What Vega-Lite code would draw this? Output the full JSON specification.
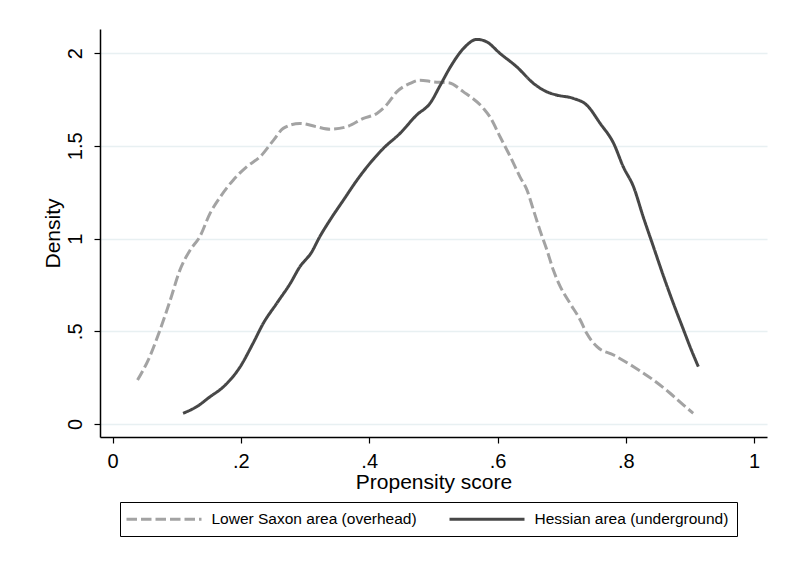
{
  "$schema": "https://vega.github.io/schema/vega-lite/v6.json",
  "width": 667,
  "height": 408,
  "autosize": {"type": "none"},
  "padding": {"left": 100, "top": 29, "right": 19, "bottom": 127},
  "background": "white",
  "config": {
    "view": {"stroke": null},
    "font": "Liberation Sans",
    "axis": {"labelFont": "Liberation Sans", "titleFont": "Liberation Sans", "labelColor": "#000000", "titleColor": "#000000", "titleFontWeight": "normal", "domainColor": "#000000", "tickColor": "#000000", "domainWidth": 1.5, "tickWidth": 1.2, "tickSize": 6},
    "legend": {
      "title": null, "orient": "none", "legendX": 20, "legendY": 473, "direction": "horizontal",
      "strokeColor": "#000000", "padding": 8, "fillColor": "white",
      "symbolType": "M-1.4,0H8.6", "symbolSize": 225, "symbolStrokeWidth": 3,
      "labelFont": "Liberation Sans", "labelFontSize": 15.5, "labelColor": "#000000", "labelOffset": 65.5, "columnPadding": 26, "labelLimit": 400
    }
  },
  "data": {
    "values": [
      {"g": "Lower Saxon area (overhead)", "x": 0.039, "y": 0.237},
      {"g": "Lower Saxon area (overhead)", "x": 0.058, "y": 0.363},
      {"g": "Lower Saxon area (overhead)", "x": 0.074, "y": 0.507},
      {"g": "Lower Saxon area (overhead)", "x": 0.090, "y": 0.668},
      {"g": "Lower Saxon area (overhead)", "x": 0.105, "y": 0.830},
      {"g": "Lower Saxon area (overhead)", "x": 0.121, "y": 0.938},
      {"g": "Lower Saxon area (overhead)", "x": 0.136, "y": 1.010},
      {"g": "Lower Saxon area (overhead)", "x": 0.152, "y": 1.136},
      {"g": "Lower Saxon area (overhead)", "x": 0.168, "y": 1.225},
      {"g": "Lower Saxon area (overhead)", "x": 0.188, "y": 1.315},
      {"g": "Lower Saxon area (overhead)", "x": 0.209, "y": 1.387},
      {"g": "Lower Saxon area (overhead)", "x": 0.230, "y": 1.441},
      {"g": "Lower Saxon area (overhead)", "x": 0.251, "y": 1.531},
      {"g": "Lower Saxon area (overhead)", "x": 0.266, "y": 1.594},
      {"g": "Lower Saxon area (overhead)", "x": 0.292, "y": 1.621},
      {"g": "Lower Saxon area (overhead)", "x": 0.318, "y": 1.603},
      {"g": "Lower Saxon area (overhead)", "x": 0.339, "y": 1.590},
      {"g": "Lower Saxon area (overhead)", "x": 0.365, "y": 1.603},
      {"g": "Lower Saxon area (overhead)", "x": 0.391, "y": 1.648},
      {"g": "Lower Saxon area (overhead)", "x": 0.412, "y": 1.675},
      {"g": "Lower Saxon area (overhead)", "x": 0.427, "y": 1.720},
      {"g": "Lower Saxon area (overhead)", "x": 0.443, "y": 1.791},
      {"g": "Lower Saxon area (overhead)", "x": 0.464, "y": 1.837},
      {"g": "Lower Saxon area (overhead)", "x": 0.479, "y": 1.854},
      {"g": "Lower Saxon area (overhead)", "x": 0.500, "y": 1.845},
      {"g": "Lower Saxon area (overhead)", "x": 0.524, "y": 1.840},
      {"g": "Lower Saxon area (overhead)", "x": 0.547, "y": 1.791},
      {"g": "Lower Saxon area (overhead)", "x": 0.578, "y": 1.702},
      {"g": "Lower Saxon area (overhead)", "x": 0.588, "y": 1.657},
      {"g": "Lower Saxon area (overhead)", "x": 0.604, "y": 1.549},
      {"g": "Lower Saxon area (overhead)", "x": 0.620, "y": 1.441},
      {"g": "Lower Saxon area (overhead)", "x": 0.635, "y": 1.333},
      {"g": "Lower Saxon area (overhead)", "x": 0.646, "y": 1.261},
      {"g": "Lower Saxon area (overhead)", "x": 0.656, "y": 1.154},
      {"g": "Lower Saxon area (overhead)", "x": 0.666, "y": 1.046},
      {"g": "Lower Saxon area (overhead)", "x": 0.677, "y": 0.938},
      {"g": "Lower Saxon area (overhead)", "x": 0.687, "y": 0.830},
      {"g": "Lower Saxon area (overhead)", "x": 0.698, "y": 0.740},
      {"g": "Lower Saxon area (overhead)", "x": 0.713, "y": 0.651},
      {"g": "Lower Saxon area (overhead)", "x": 0.729, "y": 0.561},
      {"g": "Lower Saxon area (overhead)", "x": 0.739, "y": 0.489},
      {"g": "Lower Saxon area (overhead)", "x": 0.755, "y": 0.417},
      {"g": "Lower Saxon area (overhead)", "x": 0.781, "y": 0.372},
      {"g": "Lower Saxon area (overhead)", "x": 0.812, "y": 0.309},
      {"g": "Lower Saxon area (overhead)", "x": 0.843, "y": 0.237},
      {"g": "Lower Saxon area (overhead)", "x": 0.869, "y": 0.166},
      {"g": "Lower Saxon area (overhead)", "x": 0.890, "y": 0.102},
      {"g": "Lower Saxon area (overhead)", "x": 0.905, "y": 0.058},
      {"g": "Hessian area (underground)", "x": 0.110, "y": 0.058},
      {"g": "Hessian area (underground)", "x": 0.131, "y": 0.093},
      {"g": "Hessian area (underground)", "x": 0.152, "y": 0.147},
      {"g": "Hessian area (underground)", "x": 0.173, "y": 0.201},
      {"g": "Hessian area (underground)", "x": 0.199, "y": 0.309},
      {"g": "Hessian area (underground)", "x": 0.219, "y": 0.435},
      {"g": "Hessian area (underground)", "x": 0.235, "y": 0.543},
      {"g": "Hessian area (underground)", "x": 0.256, "y": 0.651},
      {"g": "Hessian area (underground)", "x": 0.277, "y": 0.758},
      {"g": "Hessian area (underground)", "x": 0.292, "y": 0.848},
      {"g": "Hessian area (underground)", "x": 0.310, "y": 0.925},
      {"g": "Hessian area (underground)", "x": 0.323, "y": 1.010},
      {"g": "Hessian area (underground)", "x": 0.339, "y": 1.100},
      {"g": "Hessian area (underground)", "x": 0.360, "y": 1.208},
      {"g": "Hessian area (underground)", "x": 0.381, "y": 1.315},
      {"g": "Hessian area (underground)", "x": 0.401, "y": 1.405},
      {"g": "Hessian area (underground)", "x": 0.422, "y": 1.486},
      {"g": "Hessian area (underground)", "x": 0.448, "y": 1.567},
      {"g": "Hessian area (underground)", "x": 0.474, "y": 1.666},
      {"g": "Hessian area (underground)", "x": 0.495, "y": 1.730},
      {"g": "Hessian area (underground)", "x": 0.511, "y": 1.828},
      {"g": "Hessian area (underground)", "x": 0.526, "y": 1.922},
      {"g": "Hessian area (underground)", "x": 0.547, "y": 2.025},
      {"g": "Hessian area (underground)", "x": 0.568, "y": 2.074},
      {"g": "Hessian area (underground)", "x": 0.583, "y": 2.061},
      {"g": "Hessian area (underground)", "x": 0.604, "y": 1.998},
      {"g": "Hessian area (underground)", "x": 0.630, "y": 1.926},
      {"g": "Hessian area (underground)", "x": 0.656, "y": 1.837},
      {"g": "Hessian area (underground)", "x": 0.677, "y": 1.791},
      {"g": "Hessian area (underground)", "x": 0.692, "y": 1.774},
      {"g": "Hessian area (underground)", "x": 0.718, "y": 1.756},
      {"g": "Hessian area (underground)", "x": 0.739, "y": 1.720},
      {"g": "Hessian area (underground)", "x": 0.760, "y": 1.621},
      {"g": "Hessian area (underground)", "x": 0.781, "y": 1.513},
      {"g": "Hessian area (underground)", "x": 0.796, "y": 1.387},
      {"g": "Hessian area (underground)", "x": 0.812, "y": 1.279},
      {"g": "Hessian area (underground)", "x": 0.827, "y": 1.118},
      {"g": "Hessian area (underground)", "x": 0.843, "y": 0.956},
      {"g": "Hessian area (underground)", "x": 0.859, "y": 0.794},
      {"g": "Hessian area (underground)", "x": 0.874, "y": 0.651},
      {"g": "Hessian area (underground)", "x": 0.890, "y": 0.507},
      {"g": "Hessian area (underground)", "x": 0.900, "y": 0.417},
      {"g": "Hessian area (underground)", "x": 0.913, "y": 0.309}
    ]
  },
  "mark": {"type": "line", "strokeWidth": 3, "interpolate": "monotone", "strokeCap": "butt"},
  "encoding": {
    "x": {
      "field": "x", "type": "quantitative",
      "scale": {"domain": [-0.0195, 1.02], "nice": false, "zero": false},
      "axis": {
        "title": "Propensity score", "values": [0, 0.2, 0.4, 0.6, 0.8, 1],
        "labelExpr": "datum.value > 0 && datum.value < 1 ? slice(format(datum.value, '.1f'), 1) : format(datum.value, 'd')",
        "grid": false, "labelFontSize": 20, "titleFontSize": 21, "labelPadding": 8, "titlePadding": 0
      }
    },
    "y": {
      "field": "y", "type": "quantitative",
      "scale": {"domain": [-0.07, 2.13], "nice": false, "zero": false},
      "axis": {
        "title": "Density", "values": [0, 0.5, 1, 1.5, 2],
        "labelExpr": "datum.value > 0 && datum.value < 1 ? slice(format(datum.value, '.1f'), 1) : format(datum.value, '~g')",
        "grid": true, "gridColor": "#e8f0f2", "gridWidth": 1.5,
        "labelAngle": -90, "labelAlign": "center", "labelBaseline": "bottom",
        "labelFontSize": 20, "titleFontSize": 21, "labelPadding": 9, "titlePadding": 2
      }
    },
    "color": {
      "field": "g", "type": "nominal",
      "scale": {"domain": ["Lower Saxon area (overhead)", "Hessian area (underground)"], "range": ["#a3a3a3", "#474747"]}
    },
    "strokeDash": {
      "field": "g", "type": "nominal",
      "scale": {"domain": ["Lower Saxon area (overhead)", "Hessian area (underground)"], "range": [[10.5, 4], [1, 0]]}
    }
  }
}
